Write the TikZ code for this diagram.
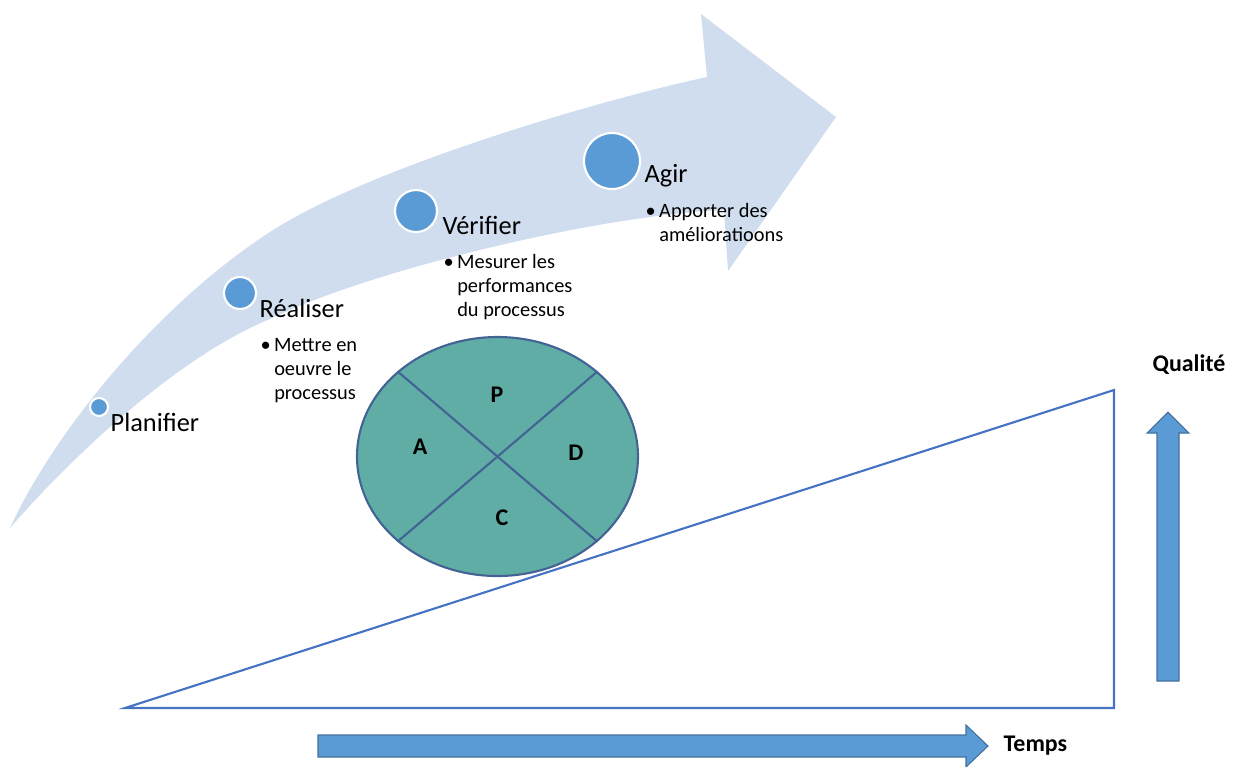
\documentclass[tikz,border=0pt]{standalone}
\usepackage{fontspec}
\setmainfont{Carlito}
\usepackage{tikz}
\usetikzlibrary{positioning,calc,shapes}

\definecolor{arrowbg}{RGB}{208,221,238}
\definecolor{dotblue}{RGB}{91,155,213}
\definecolor{pdcateal}{RGB}{95,173,165}
\definecolor{pdcaline}{RGB}{66,99,148}
\definecolor{triblue}{RGB}{68,114,196}
\definecolor{blockline}{RGB}{65,113,156}

\tikzset{
  stage dot/.style={circle, fill=dotblue, draw=white, line width=0.6pt, inner sep=0pt},
  stage label/.style={anchor=base west, inner sep=0pt, font=\fontsize{7.5}{9}\selectfont},
  bullet text/.style={anchor=base west, inner sep=0pt, align=left, font=\fontsize{5.8}{6.7}\selectfont},
  pdca letter/.style={inner sep=0pt, font=\fontsize{6.8}{8}\selectfont\bfseries},
  axis label/.style={inner sep=0pt, font=\fontsize{6.8}{8}\selectfont\bfseries},
  block arrow/.style={fill=dotblue, draw=blockline, line width=0.3pt}
}

\begin{document}
\begin{tikzpicture}[x=0.1mm,y=-0.1mm]
\useasboundingbox (0,0) rectangle (1234,766);

% Curved arrow
\fill[arrowbg] (10,528) .. controls (50,440) and (150,310) .. (270,232)
  .. controls (370,167) and (600,100) .. (707,77)
  -- (701,14) -- (836,117) -- (728,271) -- (724,210)
  .. controls (600,215) and (370,270) .. (270,319)
  .. controls (170,360) and (60,470) .. (10,528) -- cycle;

% Stage dots
\foreach \n/\x/\y/\r in {plan/99/407/9, real/240/293/16, verif/416/211/21, agir/612/161/28}
    \node[stage dot, minimum size=\r*0.2mm] (\n) at (\x,\y) {};

% Stage labels
\node[stage label] (lplan) at (110,431) {Planifier};
\node[stage label] (lreal) at (259,317) {Réaliser};
\node[stage label] (lverif) at (442,234) {Vérifier};
\node[stage label] (lagir) at (644,182) {Agir};

% Bullets (base = last line)
\node[bullet text] (breal) at (260,399) {\textbullet\,Mettre en\\\phantom{\textbullet\,}oeuvre le\\\phantom{\textbullet\,}processus};
\node[bullet text] (bverif) at (443,316) {\textbullet\,Mesurer les\\\phantom{\textbullet\,}performances\\\phantom{\textbullet\,}du processus};
\node[bullet text] (bagir) at (645,241) {\textbullet\,Apporter des\\\phantom{\textbullet\,}amélioratioons};

% Slope
\draw[triblue, line width=0.6pt] (125,708) -- (1114,390) -- (1114,708) -- cycle;

% PDCA wheel
\node[ellipse, fill=pdcateal, draw=pdcaline, line width=0.6pt,
      minimum width=28.1mm, minimum height=23.9mm, inner sep=0pt] (pdca) at (497.5,456.5) {};
\draw[pdcaline, line width=0.6pt] (pdca.north west) -- (pdca.south east);
\draw[pdcaline, line width=0.6pt] (pdca.north east) -- (pdca.south west);
\node[pdca letter] (p) at (497,395) {P};
\node[pdca letter] (d) at (576,453) {D};
\node[pdca letter] (c) at (502,518) {C};
\node[pdca letter] (a) at (420,447) {A};

% Qualite arrow
\draw[block arrow] (1157,681) -- (1157,433) -- (1147,433) -- (1168,412)
  -- (1189,433) -- (1179,433) -- (1179,681) -- cycle;
\node[axis label] (qual) at (1189,365) {Qualité};

% Temps arrow
\draw[block arrow] (318,735) -- (966,735) -- (966,725) -- (988,746)
  -- (966,767) -- (966,757) -- (318,757) -- cycle;
\node[axis label, anchor=west] (temps) at (1003,746) {Temps};
\end{tikzpicture}
\end{document}
